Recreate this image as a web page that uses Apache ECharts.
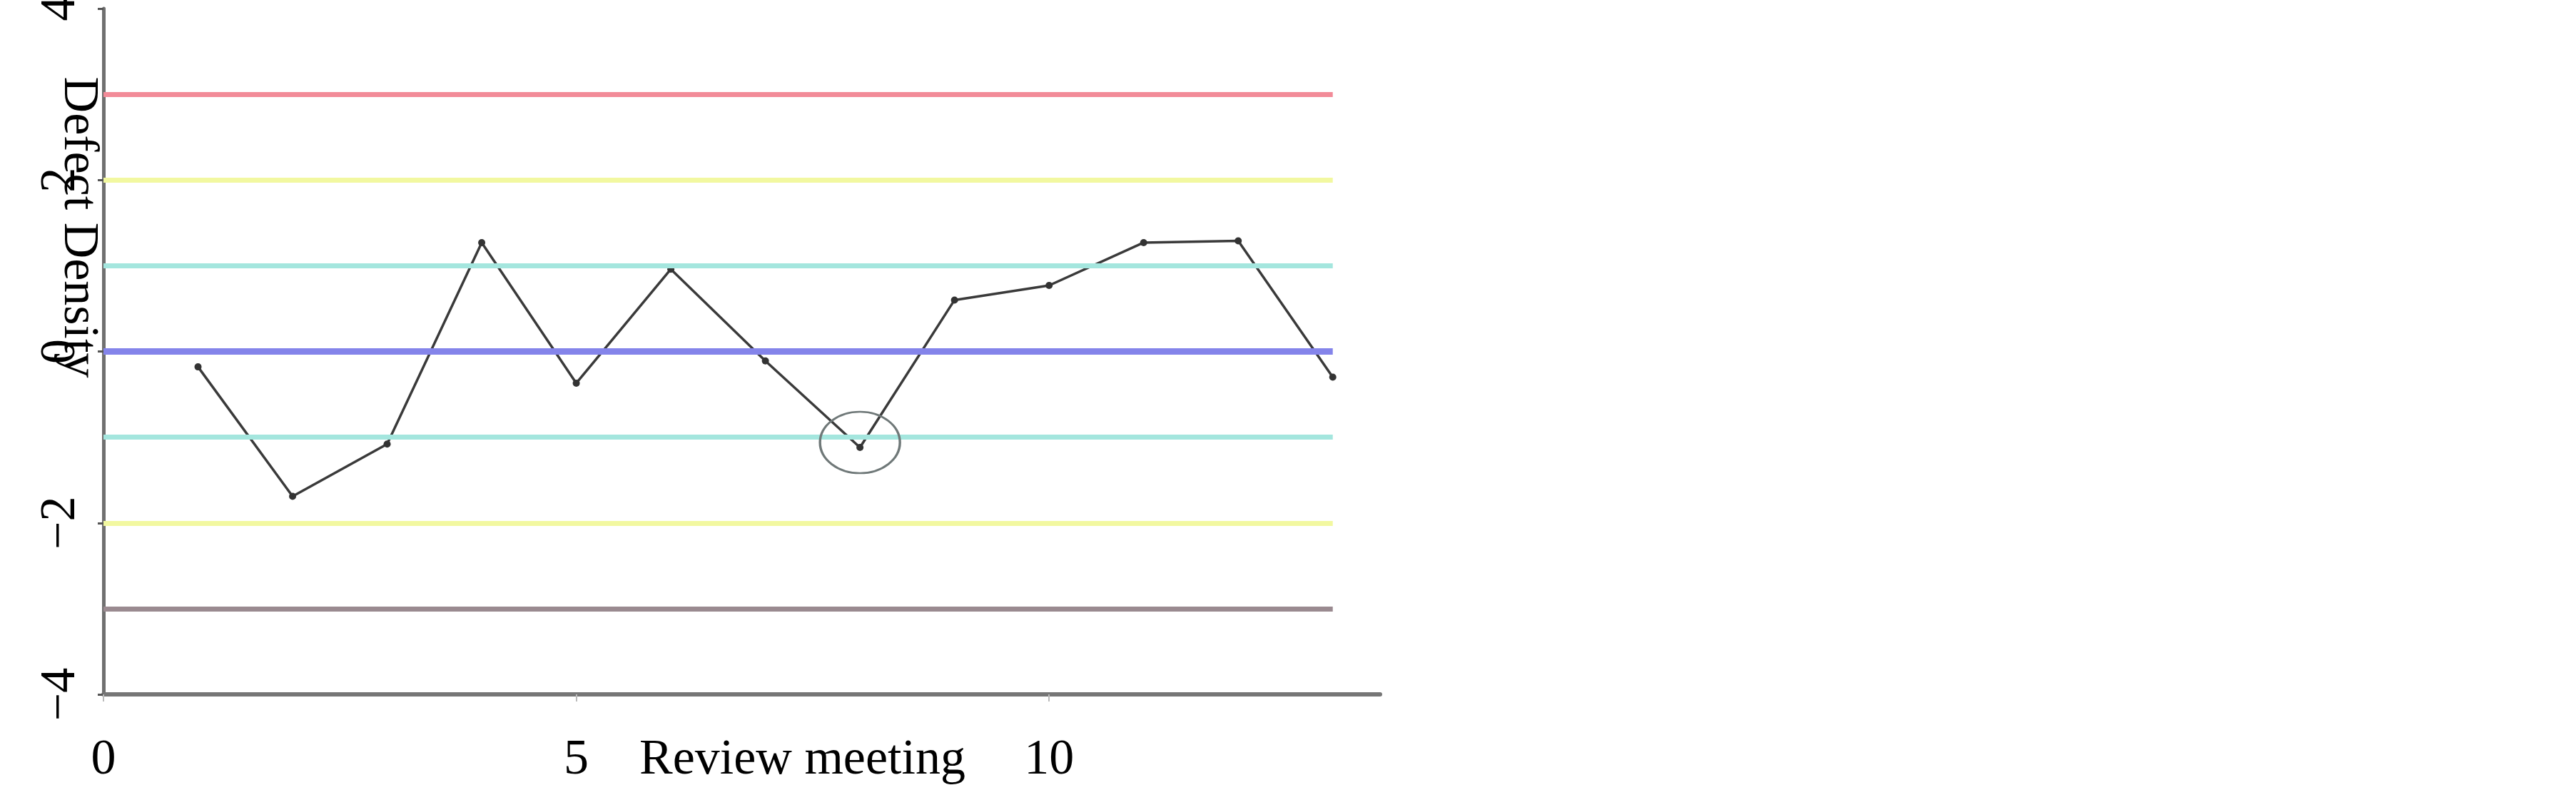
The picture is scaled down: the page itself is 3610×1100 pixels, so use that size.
<!DOCTYPE html>
<html>
<head>
    <meta charset="UTF-8">
    <title>Defect Density</title>
    <script src="https://cdn.jsdelivr.net/npm/echarts@6/dist/echarts.min.js"></script>
</head>
<body style="margin:0;background:#fff">

<div id="chartDom" style="width: 3610px;height:1100px;"></div>

<script type="text/javascript">
    // data
    var reviews = [1, 2, 3, 4, 5, 6, 7, 8, 9, 10, 11, 12, 13];
    var defectDensity = [-0.18, -1.69, -1.08, 1.27, -0.37, 0.96, -0.11, -1.12, 0.60, 0.77, 1.27, 1.29, -0.30];
    var limitLevels = [3, 2, 1, 0, -1, -2, -3];
    var limitSpan = [0, 13];
    var xTicks = [0, 5, 10];
    var circledReview = 8;

    var limitColors = ['#f28b98', '#f2f8a0', '#a4e6de', '#8484ea', '#a4e6de', '#f2f8a0', '#9a8a90'];
    var serif = "'Liberation Serif', 'Times New Roman', serif";

    var myChart = echarts.init(document.getElementById('chartDom'));

    var points = reviews.map(function (r, i) { return [r, defectDensity[i]]; });

    var limitLines = limitLevels.map(function (v, i) {
        return [
            { coord: [limitSpan[0], v], lineStyle: { color: limitColors[i], width: i == 3 ? 9 : 7, type: 'solid' } },
            { coord: [limitSpan[1], v] }
        ];
    });

    var option = {
        animation: false,
        grid: {
            left: 145,
            right: 1676,
            top: 12,
            bottom: 127,
            containLabel: false,
            outerBoundsMode: 'none'
        },
        xAxis: {
            type: 'value',
            min: 0,
            max: 13.5,
            interval: 5,
            name: 'Review meeting',
            nameLocation: 'middle',
            nameGap: 58,
            nameMoveOverlap: false,
            nameTextStyle: {
                fontFamily: serif,
                fontSize: 70,
                color: '#000',
                padding: [0, 0, 0, 170]
            },
            axisLine: { show: true, onZero: false, lineStyle: { color: '#767676', width: 6 } },
            axisTick: { show: true, inside: false, length: 10, customValues: xTicks, lineStyle: { color: '#bbb', width: 2 } },
            axisLabel: {
                customValues: xTicks,
                margin: 58,
                fontFamily: serif,
                fontSize: 70,
                color: '#000'
            },
            splitLine: { show: false }
        },
        yAxis: {
            type: 'value',
            min: -4,
            max: 4,
            interval: 2,
            name: 'Defect Density',
            nameLocation: 'middle',
            nameRotate: -90,
            nameGap: 1,
            nameMoveOverlap: false,
            nameTextStyle: {
                fontFamily: serif,
                fontSize: 70,
                color: '#000',
                padding: [0, 348, 0, 0]
            },
            axisLine: { show: true, onZero: false, lineStyle: { color: '#707070', width: 5 } },
            axisTick: { show: true, length: 8, lineStyle: { color: '#555', width: 3 } },
            axisLabel: {
                rotate: 90,
                margin: 24,
                fontFamily: serif,
                fontSize: 70,
                color: '#000',
                formatter: function (v) { return v < 0 ? '\u2212' + Math.abs(v) : String(v); }
            },
            splitLine: { show: false }
        },
        series: [
            {
                name: 'limits',
                type: 'line',
                data: [],
                z: 1,
                silent: true,
                markLine: {
                    silent: true,
                    symbol: 'none',
                    label: { show: false },
                    data: limitLines
                }
            },
            {
                name: 'Defect Density',
                type: 'line',
                z: 3,
                data: points,
                symbol: 'circle',
                symbolSize: 10,
                itemStyle: { color: '#333' },
                lineStyle: { color: '#3a3a3a', width: 3.5 },
                markPoint: {
                    silent: true,
                    symbol: 'circle',
                    symbolSize: [112, 86],
                    symbolOffset: [0, -7],
                    label: { show: false },
                    itemStyle: { color: 'rgba(0,0,0,0)', borderColor: '#6f7878', borderWidth: 3 },
                    data: [{ coord: [circledReview, defectDensity[circledReview - 1]] }]
                }
            }
        ]
    };

    myChart.setOption(option);
</script>
</body>
</html>
